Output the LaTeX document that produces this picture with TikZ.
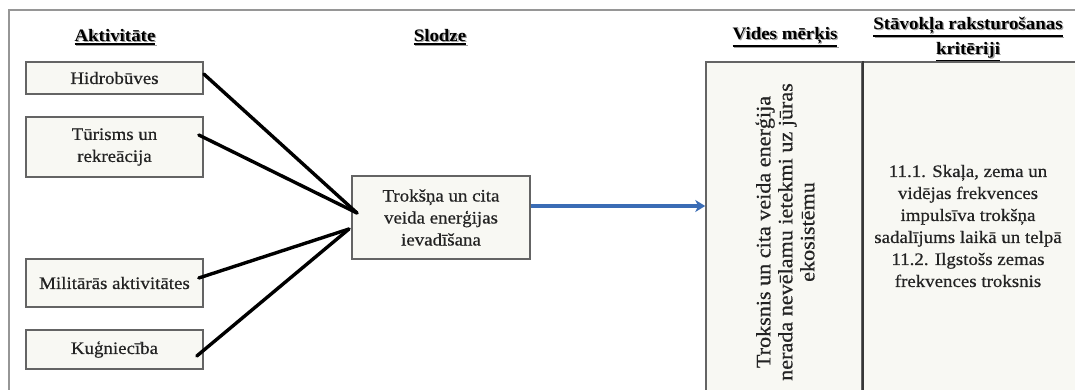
\documentclass[tikz,border=0pt]{standalone}
\usepackage{fontspec}
\setmainfont{Liberation Serif}[FakeStretch=1.08, UprightFeatures={FakeBold=0.5}]
\usetikzlibrary{arrows.meta}

% heading text with a heavy rule underneath
\newcommand\hdrline[1]{\leavevmode\vtop{\hbox{#1}\kern1.8pt\hrule height 1.5pt}}

\definecolor{boxfill}{RGB}{248,248,243}
\definecolor{boxline}{RGB}{100,100,100}
\definecolor{cellsplit}{RGB}{55,55,55}
\definecolor{framegray}{RGB}{150,150,150}
\definecolor{flowblue}{RGB}{58,108,181}
\definecolor{hdrshade}{RGB}{160,160,160}
\definecolor{textgray}{RGB}{35,35,35}

\tikzset{
  body/.style={font=\fontsize{17.5}{22}\selectfont, text=textgray},
  actbox/.style={draw=boxline, fill=boxfill, line width=1.6pt,
    minimum width=177pt, inner sep=0pt, align=center, body},
  cell/.style={draw=boxline, fill=boxfill, line width=1.6pt, inner sep=0pt},
  link/.style={line width=3.4pt, black, line cap=round},
  flow/.style={line width=3.2pt, flowblue,
    -{Stealth[length=10pt,width=12pt,inset=3pt]}},
  hdr/.style={font=\fontsize{17.5}{25}\selectfont\bfseries,
    align=center, inner sep=0pt},
  hdrshadow/.style={hdr, text=hdrshade, xshift=1.3pt, yshift=-1.3pt},
}

\begin{document}
\begin{tikzpicture}[x=1pt, y=-1pt]
\useasboundingbox (0,0) rectangle (1075,390);

% outer frame
\draw[framegray, line width=1.6pt] (9,10) rectangle (1095,410);

% column headings (shadow copy first, then the heading)
\node[hdrshadow] (h1s) at (115,37) {\hdrline{Aktivitāte}};
\node[hdr] (h1) at (115,37) {\hdrline{Aktivitāte}};
\node[hdrshadow] (h2s) at (440,37) {\hdrline{Slodze}};
\node[hdr] (h2) at (440,37) {\hdrline{Slodze}};
\node[hdrshadow] (h3s) at (785,37) {\hdrline{Vides mērķis}};
\node[hdr] (h3) at (785,37) {\hdrline{Vides mērķis}};
\node[hdrshadow] (h4s) at (968,39) {\hdrline{Stāvokļa raksturošanas}\\\hdrline{kritēriji}};
\node[hdr] (h4) at (968,39) {\hdrline{Stāvokļa raksturošanas}\\\hdrline{kritēriji}};

% activities
\node[actbox, minimum height=32pt] (hid) at (114.5,78) {Hidrobūves};
\node[actbox, minimum height=60pt] (tur) at (114.5,147) {Tūrisms un\\rekreācija};
\node[actbox, minimum height=48pt] (mil) at (114.5,283) {Militārās aktivitātes};
\node[actbox, minimum height=39pt] (kug) at (114.5,349.5) {Kuģniecība};

% pressure
\node[actbox, minimum width=178pt, minimum height=83pt] (ctr) at (441,217.5)
  {Trokšņa un cita\\veida enerģijas\\ievadīšana};

% objective and criteria cells
\node[cell, minimum width=156pt, minimum height=340pt] (vid) at (784,232) {};
\node[cell, minimum width=220pt, minimum height=340pt] (crit) at (972,232) {};
\draw[cellsplit, line width=1.4pt] (vid.north east) -- (vid.south east);

\node[body, font=\fontsize{20.5}{22}\selectfont, rotate=90, align=center, inner sep=0pt]
  (vidtxt) at (785,232)
  {Troksnis un cita veida enerģija\\nerada nevēlamu ietekmi uz jūras\\ekosistēmu};
\node[body, align=center, inner sep=0pt] (crittxt) at (968,226)
  {11.1. Skaļa, zema un\\vidējas frekvences\\impulsīva trokšņa\\sadalījums laikā un telpā\\11.2. Ilgstošs zemas\\frekvences troksnis};

% links from activities to the pressure
\coordinate (cu) at (357,213);
\coordinate (cl) at (349,229);
\draw[link] ([yshift=4pt]hid.east) -- (cu);
\draw[link] ([xshift=-5pt,yshift=12pt]tur.east) -- (cu);
\draw[link] ([xshift=-5pt,yshift=5pt]mil.east) -- (cl);
\draw[link] ([xshift=-7pt,yshift=-6.5pt]kug.east) -- (cl);

% pressure to objective
\draw[flow] ([yshift=11.5pt]ctr.east) -- ([yshift=11.5pt]ctr.east -| vid.west);
\end{tikzpicture}
\end{document}
